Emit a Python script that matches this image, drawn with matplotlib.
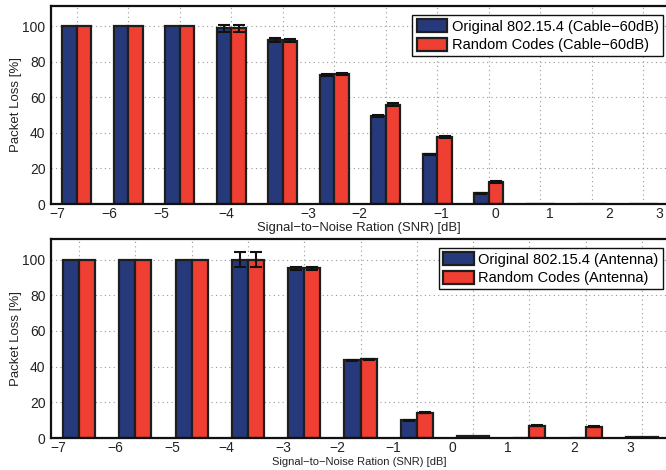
import numpy as np
import matplotlib
matplotlib.use("Agg")
import matplotlib.pyplot as plt

plt.rcParams['font.family'] = ['Liberation Sans', 'DejaVu Sans']

snr_labels = ["\u22127", "\u22126", "\u22125", "\u22124", "\u22123", "\u22122", "\u22121", "0", "1", "2", "3"]

# Top panel (Cable-60dB)
top_groups = np.arange(1, 13)
top_orig = [100, 100, 100, 99, 92.5, 72.5, 49.5, 28, 6, 0, 0, 0]
top_rand = [100, 100, 100, 99, 92, 73, 56, 37.5, 12.5, 0, 0, 0]
top_orig_err = [0, 0, 0, 2, 1, 0.6, 0.5, 0.4, 0.3, 0, 0, 0]
top_rand_err = [0, 0, 0, 2, 1, 0.6, 0.6, 0.6, 0.4, 0, 0, 0]
top_label_pos = [0.63, 1.64, 2.65, 3.91, 5.49, 6.48, 8.08, 9.12, 10.18, 11.33, 12.32]

# Bottom panel (Antenna)
bot_groups = np.arange(1, 12)
bot_orig = [100, 100, 100, 100, 95, 43.5, 10, 1.0, 0, 0, 0.3]
bot_rand = [100, 100, 100, 100, 95, 44, 14.2, 1.0, 7, 6.3, 0.3]
bot_orig_err = [0, 0, 0, 4, 1, 0.3, 0.3, 0, 0, 0, 0]
bot_rand_err = [0, 0, 0, 4, 1, 0.3, 0.3, 0, 0.3, 0.3, 0]
bot_label_pos = [0.63, 1.64, 2.65, 3.62, 4.62, 5.58, 6.58, 7.64, 8.62, 9.79, 10.79]

BLUE = '#263a7b'
RED = '#ef3e32'
EDGE = '#1e1e1e'

fig = plt.figure(figsize=(6.66, 4.70), dpi=100)
W, H = 666, 470

def make_ax(l, r, t, b):
    return fig.add_axes([l / W, 1 - b / H, (r - l) / W, (b - t) / H])

ax1 = make_ax(51, 669, 6, 204)
ax2 = make_ax(51, 670, 239, 438)

def draw(ax, groups, orig, rand, oerr, rerr, lab_pos, names, leg_anchor, xl_size, xl_y):
    w = 0.285
    ax.bar(groups - w / 2, orig, width=w, color=BLUE, edgecolor=EDGE, linewidth=1.6, label=names[0], zorder=2)
    ax.bar(groups + w / 2, rand, width=w, color=RED, edgecolor=EDGE, linewidth=1.6, label=names[1], zorder=2)
    for off, vals, errs in ((-w / 2, orig, oerr), (w / 2, rand, rerr)):
        idx = [i for i, e in enumerate(errs) if e > 0]
        ax.errorbar(groups[idx] + off, np.array(vals)[idx], yerr=np.array(errs)[idx],
                    fmt='none', ecolor='#111111', elinewidth=1.5, capsize=4, capthick=1.5, zorder=3)
    ax.set_xlim(0.5, len(groups) + 0.5)
    ax.set_ylim(0, 111.5)
    ax.set_yticks([0, 20, 40, 60, 80, 100])
    ax.set_xticks(groups)
    ax.set_xticklabels([''] * len(groups))
    ax.set_xticks(lab_pos, snr_labels, minor=True)
    ax.tick_params(axis='both', which='both', length=0, labelsize=10, colors='#222222', pad=4)
    ax.tick_params(axis='x', which='both', pad=2)
    ax.grid(True, which='major', linestyle=(0, (1, 3)), color='#999999', linewidth=0.8, zorder=0)
    ax.set_axisbelow(True)
    for s in ('left', 'bottom', 'top'):
        ax.spines[s].set_linewidth(1.6)
        ax.spines[s].set_color('#111111')
    ax.spines['right'].set_visible(False)
    ax.set_ylabel('Packet Loss [%]', fontsize=9.5, color='#222222')
    ax.yaxis.set_label_coords(-0.047, 0.5)
    ax.set_xlabel('Signal\u2212to\u2212Noise Ration (SNR) [dB]', fontsize=xl_size, color='#222222')
    ax.xaxis.set_label_coords(0.498, xl_y)
    leg = ax.legend(loc='upper right', bbox_to_anchor=(leg_anchor[0] / W, 1 - leg_anchor[1] / H),
                    bbox_transform=fig.transFigure, borderaxespad=0, fancybox=False,
                    edgecolor='#111111', framealpha=1, fontsize=10.5, handlelength=2.1,
                    handleheight=1.0, handletextpad=0.3, borderpad=0.3, labelspacing=0.25)
    leg.get_frame().set_linewidth(1.0)

draw(ax1, top_groups, top_orig, top_rand, top_orig_err, top_rand_err, top_label_pos,
     ['Original 802.15.4 (Cable\u221260dB)', 'Random Codes (Cable\u221260dB)'], (663, 15), 9.4, -0.093)
draw(ax2, bot_groups, bot_orig, bot_rand, bot_orig_err, bot_rand_err, bot_label_pos,
     ['Original 802.15.4 (Antenna)', 'Random Codes (Antenna)'], (663, 248), 8.0, -0.093)

fig.savefig('out.png', dpi=100)
